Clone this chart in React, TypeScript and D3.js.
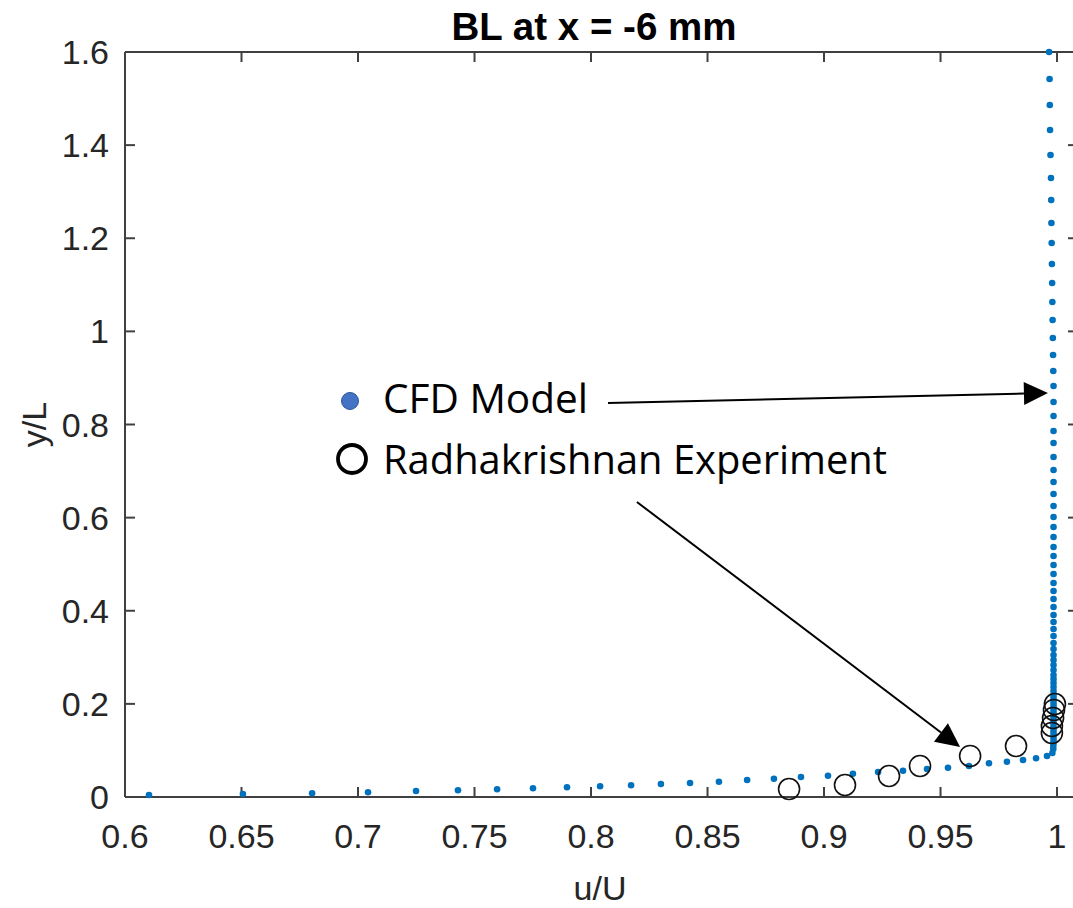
import React from 'react';
import * as d3 from 'd3';

// ---------- data ----------
const xTicks = [0.6, 0.65, 0.7, 0.75, 0.8, 0.85, 0.9, 0.95, 1];
const xTickLabels = ['0.6', '0.65', '0.7', '0.75', '0.8', '0.85', '0.9', '0.95', '1'];
const yTicks = [0, 0.2, 0.4, 0.6, 0.8, 1, 1.2, 1.4, 1.6];
const yTickLabels = ['0', '0.2', '0.4', '0.6', '0.8', '1', '1.2', '1.4', '1.6'];

// CFD model: near-wall row, then the vertical column (rows aligned with cfdY)
const cfdU = [
  0.6103, 0.6506, 0.6803, 0.7043, 0.7249, 0.7429, 0.7597, 0.7751, 0.7897, 0.8039,
  0.8172, 0.8300, 0.8425, 0.8549, 0.8670, 0.8785, 0.8901, 0.9017, 0.9124, 0.9232,
  0.9339, 0.9442, 0.9532, 0.9622, 0.9708, 0.9785, 0.9854, 0.9910, 0.9957, 0.9980,
  0.9984, 0.9984, 0.9985, 0.9985, 0.9985, 0.9985, 0.9985, 0.9985, 0.9985, 0.9985,
  0.9985, 0.9985, 0.9985, 0.9985, 0.9985, 0.9985, 0.9985, 0.9985, 0.9985, 0.9985,
  0.9985, 0.9985, 0.9985, 0.9985, 0.9985, 0.9985, 0.9985, 0.9985, 0.9985, 0.9985,
  0.9985, 0.9985, 0.9985, 0.9985, 0.9985, 0.9985, 0.9985, 0.9985, 0.9985, 0.9985,
  0.9985, 0.9985, 0.9985, 0.9985, 0.9985, 0.9985, 0.9985, 0.9985, 0.9985, 0.9985,
  0.9985, 0.9985, 0.9985, 0.9985, 0.9985, 0.9984, 0.9983, 0.9982, 0.9981, 0.9980,
  0.9979, 0.9978, 0.9977, 0.9976, 0.9975, 0.9974, 0.9972, 0.9970, 0.9969, 0.9968,
  0.9966,
];
const cfdY = [
  0.0043, 0.0064, 0.0079, 0.0101, 0.0129, 0.0144, 0.0165, 0.0187, 0.0208, 0.0230,
  0.0251, 0.0279, 0.0301, 0.0329, 0.0365, 0.0393, 0.0430, 0.0457, 0.0500, 0.0537,
  0.0565, 0.0601, 0.0629, 0.0666, 0.0724, 0.0758, 0.0795, 0.0831, 0.0881, 0.0945,
  0.1031, 0.1095, 0.1160, 0.1224, 0.1289, 0.1353, 0.1417, 0.1482, 0.1546, 0.1611,
  0.1675, 0.1740, 0.1804, 0.1869, 0.1933, 0.1997, 0.2062, 0.2126, 0.2191, 0.2277,
  0.2362, 0.2448, 0.2534, 0.2620, 0.2728, 0.2835, 0.2942, 0.3050, 0.3179, 0.3307,
  0.3458, 0.3608, 0.3758, 0.3909, 0.4081, 0.4253, 0.4424, 0.4596, 0.4789, 0.4983,
  0.5176, 0.5369, 0.5584, 0.5799, 0.6014, 0.6250, 0.6508, 0.6765, 0.7023, 0.7302,
  0.7603, 0.7861, 0.8183, 0.8484, 0.8827, 0.9149, 0.9493, 0.9858, 1.0245, 1.0631,
  1.1039, 1.1447, 1.1898, 1.2328, 1.2822, 1.3294, 1.3788, 1.4325, 1.4862, 1.5420,
  1.6000,
];

// Radhakrishnan experiment
const expU = [0.8850, 0.9090, 0.9279, 0.9412, 0.9627, 0.9824, 0.9978, 0.9978, 0.9983, 0.9987, 0.9991];
const expY = [0.0172, 0.0258, 0.0451, 0.0666, 0.0881, 0.1095, 0.1375, 0.1525, 0.1697, 0.1869, 0.1997];

// annotation arrows (data coordinates): [startU, startY, tipU, tipY]
const arrowCFD = [0.8073, 0.8462, 0.9961, 0.8677];
const arrowExp = [0.8197, 0.6336, 0.9584, 0.1074];

const legendLabels = ['CFD Model', 'Radhakrishnan Experiment'];

// ---------- layout ----------
const W = 1073;
const H = 908;
const L = 125;
const R = 1078;
const T = 52;
const B = 797;

const axisColor = '#404040';
const textColor = '#262626';
const blue = '#0072BD';
const font = "'Liberation Sans', Arial, Helvetica, sans-serif";
const legendFont = "'Open Sans', 'Noto Sans', sans-serif";

function arrowHead(x1: number, y1: number, x2: number, y2: number, len: number, half: number) {
  const dx = x2 - x1;
  const dy = y2 - y1;
  const d = Math.sqrt(dx * dx + dy * dy);
  const ux = dx / d;
  const uy = dy / d;
  const bx = x2 - ux * len;
  const by = y2 - uy * len;
  const px = -uy;
  const py = ux;
  return {
    pts: `${x2},${y2} ${bx + px * half},${by + py * half} ${bx - px * half},${by - py * half}`,
    bx,
    by,
  };
}

export default function App() {
  const x = d3.scaleLinear().domain([0.6, 1.009]).range([L, R]);
  const y = d3.scaleLinear().domain([0, 1.6]).range([B, T]);
  const tickLen = 10;

  const cfd = cfdU.map((u, i) => ({ u, v: cfdY[i] }));
  const exp = expU.map((u, i) => ({ u, v: expY[i] }));

  const renderArrow = (a: number[], key: string) => {
    const x1 = x(a[0]);
    const y1 = y(a[1]);
    const x2 = x(a[2]);
    const y2 = y(a[3]);
    const h = arrowHead(x1, y1, x2, y2, 24, 11.5);
    return (
      <g key={key}>
        <line x1={x1} y1={y1} x2={h.bx} y2={h.by} stroke="#000" strokeWidth={2} />
        <polygon points={h.pts} fill="#000" />
      </g>
    );
  };

  return (
    <svg
      width={W}
      height={H}
      style={{ position: 'absolute', left: 0, top: 0, background: '#fff' }}
      xmlns="http://www.w3.org/2000/svg"
    >
      <rect x={0} y={0} width={W} height={H} fill="#fff" />

      {/* title */}
      <text
        x={594}
        y={40}
        textAnchor="middle"
        fontFamily={font}
        fontWeight="bold"
        fontSize={38.5}
        fill="#000"
      >
        BL at x = -6 mm
      </text>

      {/* axes box */}
      <g stroke={axisColor} strokeWidth={2} fill="none">
        <line x1={L} y1={T} x2={L} y2={B} />
        <line x1={L} y1={B} x2={R} y2={B} />
        <line x1={L} y1={T} x2={R} y2={T} />
        <line x1={R} y1={T} x2={R} y2={B} />
        {xTicks.map((t) => (
          <g key={'xt' + t}>
            <line x1={x(t)} y1={B} x2={x(t)} y2={B - tickLen} />
            <line x1={x(t)} y1={T} x2={x(t)} y2={T + tickLen} />
          </g>
        ))}
        {yTicks.map((t) => (
          <g key={'yt' + t}>
            <line x1={L} y1={y(t)} x2={L + tickLen} y2={y(t)} />
            <line x1={R} y1={y(t)} x2={R - tickLen} y2={y(t)} />
          </g>
        ))}
      </g>

      {/* tick labels */}
      <g fontFamily={font} fontSize={34} fill={textColor}>
        {xTicks.map((t, i) => (
          <text key={'xl' + t} x={x(t)} y={B + 51} textAnchor="middle">
            {xTickLabels[i]}
          </text>
        ))}
        {yTicks.map((t, i) => (
          <text key={'yl' + t} x={L - 16} y={y(t) + 12} textAnchor="end">
            {yTickLabels[i]}
          </text>
        ))}
      </g>

      {/* axis labels */}
      <text x={600} y={900} textAnchor="middle" fontFamily={font} fontSize={34} fill={textColor}>
        u/U
      </text>
      <text
        transform={`translate(46, ${(T + B) / 2}) rotate(-90)`}
        textAnchor="middle"
        fontFamily={font}
        fontSize={34}
        fill={textColor}
      >
        y/L
      </text>

      {/* CFD model points */}
      <g fill={blue}>
        {cfd.map((d, i) => (
          <circle key={'c' + i} cx={x(d.u)} cy={y(d.v)} r={3.3} />
        ))}
      </g>

      {/* experiment circles */}
      <g fill="none" stroke="#111" strokeWidth={1.6}>
        {exp.map((d, i) => (
          <circle key={'e' + i} cx={x(d.u)} cy={y(d.v)} r={10.5} />
        ))}
      </g>

      {/* legend-like annotation */}
      <circle cx={350} cy={401} r={8.5} fill="#4472C4" stroke="#2F5597" strokeWidth={1} />
      <text x={383} y={413} fontFamily={legendFont} fontSize={40} fill="#000" textLength={205} lengthAdjust="spacingAndGlyphs">
        {legendLabels[0]}
      </text>
      <circle cx={352} cy={459} r={14} fill="none" stroke="#000" strokeWidth={3.8} />
      <text x={383} y={474} fontFamily={legendFont} fontSize={40} fill="#000" textLength={504} lengthAdjust="spacingAndGlyphs">
        {legendLabels[1]}
      </text>

      {renderArrow(arrowCFD, 'a1')}
      {renderArrow(arrowExp, 'a2')}
    </svg>
  );
}
